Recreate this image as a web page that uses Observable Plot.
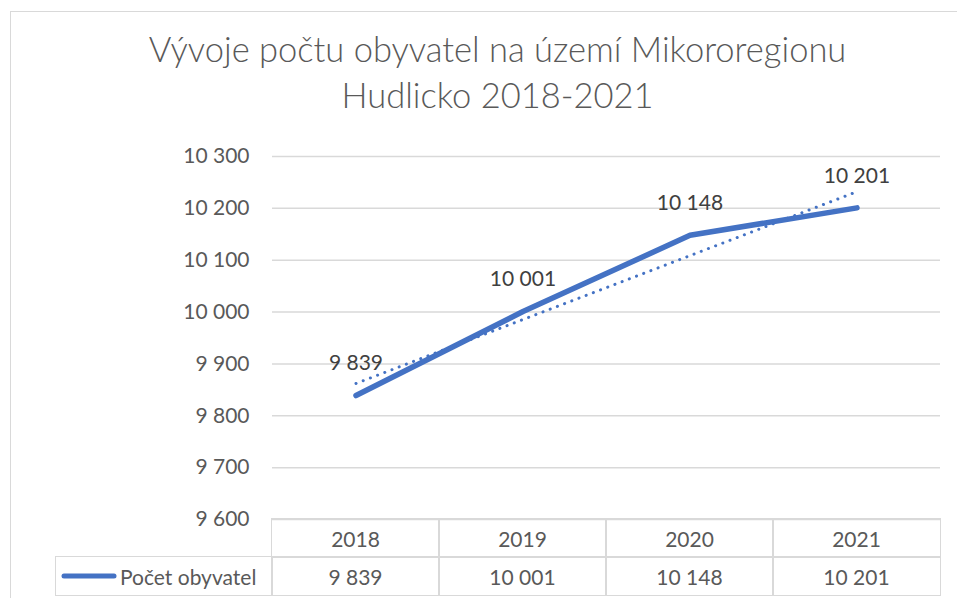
<!DOCTYPE html>
<html>
<head>
<meta charset="utf-8">
<script src="https://cdn.jsdelivr.net/npm/d3@7"></script>
<script src="https://cdn.jsdelivr.net/npm/@observablehq/plot@0.6"></script>
<style>
  html, body { margin: 0; padding: 0; background: #fff; }
  #wrap { position: relative; width: 957px; height: 598px; overflow: hidden; font-family: Lato, "Open Sans", sans-serif; color: #595959; }
  #frame { position: absolute; left: 10px; top: 11px; width: 1000px; height: 700px; border: 1px solid #d9d9d9; box-sizing: border-box; }
  #title { position: absolute; left: 30px; width: 935px; top: 26px; text-align: center; font-size: 34.5px; font-weight: 300; line-height: 46px; color: #595959; }
  #chart { position: absolute; left: 0; top: 130px; }
  #chart svg { overflow: visible; }
  .cell { position: absolute; box-sizing: border-box; border: 1.5px solid #d9d9d9; display: flex; align-items: center; justify-content: center; font-size: 21px; color: #595959; background: transparent; }
</style>
</head>
<body>
<div id="wrap">
  <div id="frame"></div>
  <div id="title">Vývoje počtu obyvatel na území Mikororegionu<br>Hudlicko 2018-2021</div>
  <div id="chart"></div>
</div>
<script>
const years = [2018, 2019, 2020, 2021];
const population = [9839, 10001, 10148, 10201];
const seriesName = "Počet obyvatel";
const yTicks = [9600, 9700, 9800, 9900, 10000, 10100, 10200, 10300];

const data = years.map((year, i) => ({year, value: population[i]}));
const loc = d3.formatLocale({decimal: ",", thousands: " ", grouping: [3], currency: ["", ""]});
const fmt = loc.format(",d");
const blue = "#4472C4";

const plot = Plot.plot({
  width: 957,
  height: 389,
  marginTop: 26,
  marginBottom: 0,
  marginLeft: 272,
  marginRight: 17,
  style: {fontFamily: "Lato, 'Open Sans', sans-serif", fontSize: "21px", color: "#595959", background: "transparent"},
  x: {type: "linear", domain: [2017.5, 2021.5], axis: null},
  y: {domain: [9600, 10300], ticks: yTicks, tickFormat: fmt, tickSize: 0, tickPadding: 23, label: null},
  marks: [
    Plot.ruleY(yTicks, {stroke: "#d9d9d9", strokeWidth: 1.5, strokeOpacity: 1}),
    Plot.axisY(yTicks, {tickFormat: fmt, tickSize: 0, tickPadding: 23, label: null, fill: "#595959", fontSize: 21}),
    Plot.linearRegressionY(data, {x: "year", y: "value", ci: 0, stroke: blue, strokeWidth: 3, strokeDasharray: "0.1,7.6", strokeLinecap: "round"}),
    Plot.line(data, {x: "year", y: "value", stroke: blue, strokeWidth: 5.5, strokeLinecap: "round", strokeLinejoin: "round"}),
    Plot.text(data, {x: "year", y: "value", text: d => fmt(d.value), dy: -32, fill: "#404040", fontSize: 21})
  ]
});
document.getElementById("chart").appendChild(plot);

// Data table below the plot, columns placed with the plot's own x scale
const xs = plot.scale("x");
const wrap = document.getElementById("wrap");
const top0 = 130 + 389; // bottom of plot area
const row1 = 38, row2 = 38;
function cell(left, top, w, h, html, extra) {
  const d = document.createElement("div");
  d.className = "cell";
  Object.assign(d.style, {left: left + "px", top: top + "px", width: w + "px", height: h + "px"}, extra || {});
  d.innerHTML = html;
  wrap.appendChild(d);
}
years.forEach((yr, i) => {
  const l = xs.apply(yr - 0.5), r = xs.apply(yr + 0.5);
  cell(l - 0.75, top0 - 0.75, r - l + 1.5, row1 + 1.5, String(yr));
  cell(l - 0.75, top0 + row1 - 0.75, r - l + 1.5, row2 + 1.5, fmt(population[i]));
});
const lx = xs.apply(years[0] - 0.5);
cell(55, top0 + row1 - 0.75, lx - 55 + 0.75, row2 + 1.5,
  `<svg width="58" height="10" style="margin-right:2px"><line x1="4" y1="5" x2="54" y2="5" stroke="${blue}" stroke-width="5" stroke-linecap="round"/></svg><span>${seriesName}</span>`,
  {justifyContent: "flex-start", paddingLeft: "4px"});
</script>
</body>
</html>
